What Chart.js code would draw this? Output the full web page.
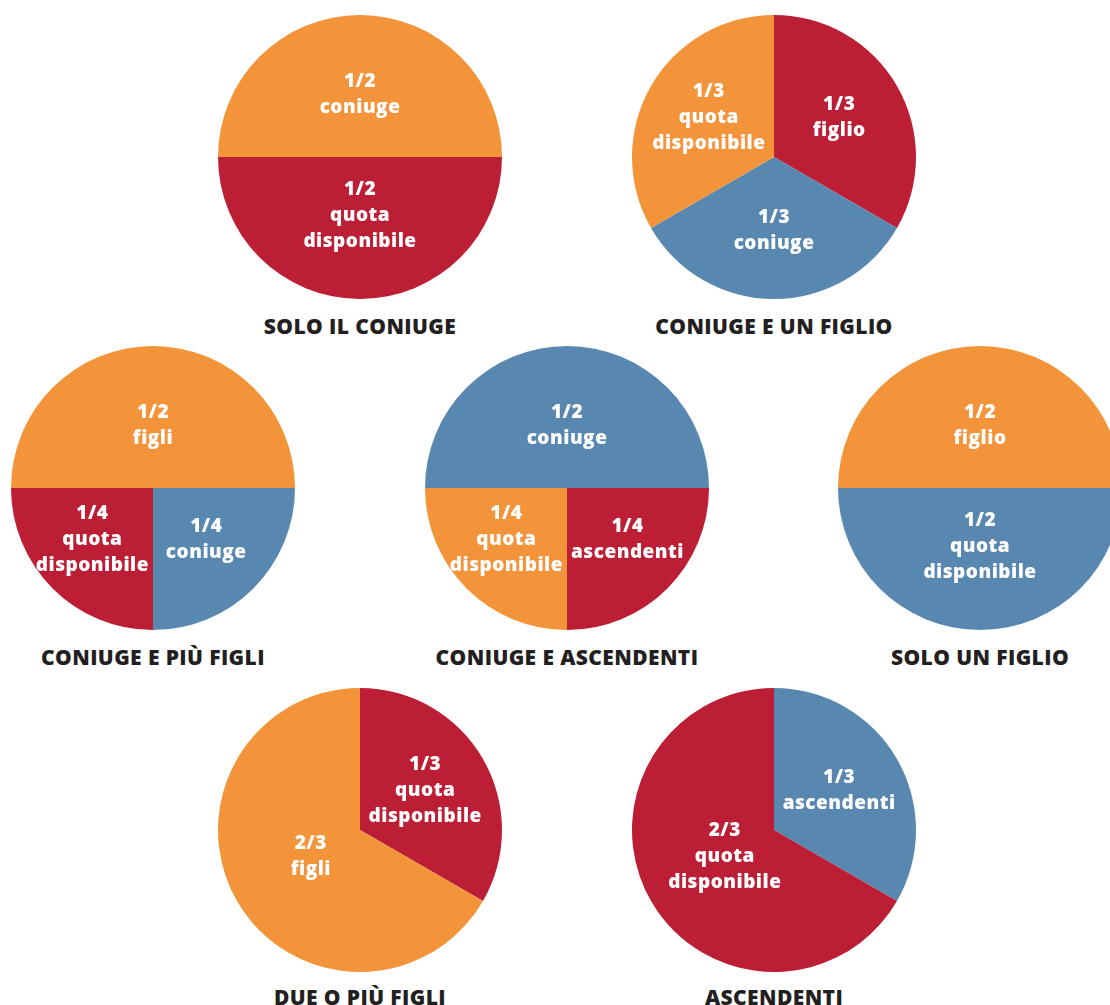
<!DOCTYPE html>
<html lang="it">
<head>
    <meta charset="UTF-8">
    <title>Quote di successione</title>
    <script src="https://cdn.jsdelivr.net/npm/chart.js"></script>
    <style>
        body {
            margin: 0;
            background: #fff;
            font-family: "Open Sans", Arial, sans-serif;
        }
        .board {
            position: relative;
            width: 1110px;
            height: 1005px;
            overflow: hidden;
        }
        .board canvas {
            position: absolute;
        }
        .caption {
            position: absolute;
            width: 360px;
            height: 30px;
            line-height: 30px;
            text-align: center;
            font-size: 21px;
            font-weight: 800;
            letter-spacing: 0.4px;
            color: #231f20;
            white-space: nowrap;
        }
    </style>
</head>
<body>
    <div class="board" id="board"></div>

    <script>
        // One entry per pie, in reading order
        const titles = [
            'SOLO IL CONIUGE', 'CONIUGE E UN FIGLIO',
            'CONIUGE E PIÙ FIGLI', 'CONIUGE E ASCENDENTI', 'SOLO UN FIGLIO',
            'DUE O PIÙ FIGLI', 'ASCENDENTI'
        ];
        const fractions = [
            ['1/2', '1/2'],
            ['1/3', '1/3', '1/3'],
            ['1/2', '1/4', '1/4'],
            ['1/2', '1/4', '1/4'],
            ['1/2', '1/2'],
            ['1/3', '2/3'],
            ['1/3', '2/3']
        ];
        const heirs = [
            ['coniuge', 'quota disponibile'],
            ['figlio', 'coniuge', 'quota disponibile'],
            ['figli', 'coniuge', 'quota disponibile'],
            ['coniuge', 'ascendenti', 'quota disponibile'],
            ['figlio', 'quota disponibile'],
            ['quota disponibile', 'figli'],
            ['ascendenti', 'quota disponibile']
        ];
        const shares = [
            [0.5, 0.5],
            [0.3333, 0.3333, 0.3333],
            [0.5, 0.25, 0.25],
            [0.5, 0.25, 0.25],
            [0.5, 0.5],
            [0.3333, 0.6667],
            [0.3333, 0.6667]
        ];

        // styling / layout (kept apart from the data)
        const ORANGE = '#f4943a', RED = '#bc1e36', BLUE = '#5888b0';
        const sliceColors = [
            [ORANGE, RED],
            [RED, BLUE, ORANGE],
            [ORANGE, BLUE, RED],
            [BLUE, RED, ORANGE],
            [ORANGE, BLUE],
            [RED, ORANGE],
            [BLUE, RED]
        ];
        const startAngles = [-90, 0, -90, -90, -90, 0, 0];
        const centers = [
            [360, 157], [774, 157],
            [153, 488], [567, 488], [980, 488],
            [360, 830], [774, 830]
        ];
        const captionY = [326, 326, 657, 657, 657, 997, 997];
        const R = 142;

        // white two/three line labels inside each slice
        const sliceLabels = {
            id: 'sliceLabels',
            afterDatasetsDraw(chart) {
                const ctx = chart.ctx;
                const meta = chart.getDatasetMeta(0);
                const idx = chart.options.plugins.sliceLabels.index;
                const eps = 0.01;
                ctx.save();
                ctx.fillStyle = '#fff';
                ctx.font = '800 19px "Open Sans", Arial, sans-serif';
                ctx.letterSpacing = '0.5px';
                ctx.textAlign = 'center';
                ctx.textBaseline = 'middle';
                meta.data.forEach((arc, i) => {
                    const p = arc.getProps(['x', 'y', 'startAngle', 'endAngle', 'outerRadius'], true);
                    const mid = (p.startAngle + p.endAngle) / 2;
                    const half = (p.endAngle - p.startAngle) / 2;
                    let d = 2 * p.outerRadius * Math.sin(half) / (3 * half);
                    d = Math.min(Math.max(d, 0.40 * p.outerRadius), 0.53 * p.outerRadius);
                    let cx = p.x + Math.cos(mid) * d;
                    const cy = p.y + Math.sin(mid) * d;
                    const lines = [fractions[idx][i]].concat(heirs[idx][i].split(' '));
                    const w = Math.max(...lines.map(t => ctx.measureText(t).width));

                    // keep the text clear of the vertical split when the slice sits on one side
                    const TAU = Math.PI * 2;
                    let a0 = ((p.startAngle + Math.PI / 2) % TAU + TAU) % TAU;
                    let a1 = a0 + (p.endAngle - p.startAngle);
                    if (a0 >= -eps && a1 <= Math.PI + eps) {
                        cx = Math.max(cx, p.x + 4 + w / 2);
                    } else if (a0 >= Math.PI - eps && a1 <= TAU + eps) {
                        cx = Math.min(cx, p.x - 4 - w / 2);
                    }

                    const lh = 26;
                    const top = cy - (lines.length - 1) * lh / 2 - 2;
                    lines.forEach((t, k) => ctx.fillText(t, cx, top + k * lh));
                });
                ctx.restore();
            }
        };

        const board = document.getElementById('board');

        titles.forEach((title, n) => {
            const [cx, cy] = centers[n];

            const canvas = document.createElement('canvas');
            canvas.width = 2 * R;
            canvas.height = 2 * R;
            canvas.style.left = (cx - R) + 'px';
            canvas.style.top = (cy - R) + 'px';
            board.appendChild(canvas);

            new Chart(canvas, {
                type: 'pie',
                data: {
                    labels: heirs[n],
                    datasets: [{
                        data: shares[n],
                        backgroundColor: sliceColors[n],
                        borderWidth: 0,
                        hoverOffset: 0
                    }]
                },
                options: {
                    responsive: false,
                    animation: false,
                    rotation: startAngles[n],
                    layout: { padding: 0 },
                    events: [],
                    plugins: {
                        legend: { display: false },
                        tooltip: { enabled: false },
                        sliceLabels: { index: n }
                    }
                },
                plugins: [sliceLabels]
            });

            const cap = document.createElement('div');
            cap.className = 'caption';
            cap.textContent = title;
            cap.style.left = (cx - 180) + 'px';
            cap.style.top = (captionY[n] - 15) + 'px';
            board.appendChild(cap);
        });
    </script>
</body>
</html>
